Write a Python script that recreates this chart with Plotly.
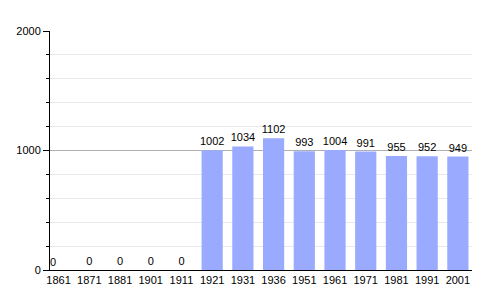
import plotly.graph_objects as go

years = ["1861", "1871", "1881", "1901", "1911", "1921", "1931", "1936",
         "1951", "1961", "1971", "1981", "1991", "2001"]
population = [0, 0, 0, 0, 0, 1002, 1034, 1102, 993, 1004, 991, 955, 952, 949]

x = list(range(len(years)))
labels = [str(v) for v in population]
bar_text = [""] + labels[1:]

fig = go.Figure()
fig.add_trace(go.Bar(
    x=x, y=population, text=bar_text, textposition="outside",
    constraintext="none",
    textfont=dict(family="Liberation Sans, Arial", size=11, color="black"),
    marker=dict(color="#99aaff", line=dict(width=0)),
    width=0.69, cliponaxis=False, hoverinfo="skip",
))
fig.add_annotation(x=x[0], y=population[0], text=labels[0], showarrow=False,
                   xshift=-6, yshift=8,
                   font=dict(family="Liberation Sans, Arial", size=11, color="black"))

fig.update_layout(
    width=500, height=300,
    margin=dict(l=50, r=28, t=31, b=30),
    paper_bgcolor="white", plot_bgcolor="white",
    showlegend=False,
    font=dict(family="Liberation Sans, Arial", size=11, color="black"),
    xaxis=dict(
        range=[-0.28, 13.46], tickmode="array", tickvals=x, ticktext=years,
        showgrid=False, zeroline=False, showline=True, linecolor="black",
        linewidth=1, ticks="", tickfont=dict(size=11),
    ),
    yaxis=dict(
        range=[0, 2000], tickmode="array", tickvals=[0, 1000, 2000],
        showgrid=True, gridcolor="#b0b0b0", gridwidth=1,
        zeroline=False, showline=True, linecolor="black", linewidth=1,
        ticks="outside", ticklen=6, tickcolor="black",
        minor=dict(dtick=200, ticks="outside", ticklen=3, tickcolor="black",
                   showgrid=True, gridcolor="#e8e8e8", gridwidth=1),
        tickfont=dict(size=11),
    ),
    bargap=0.31,
)

fig.write_html("out.html")
